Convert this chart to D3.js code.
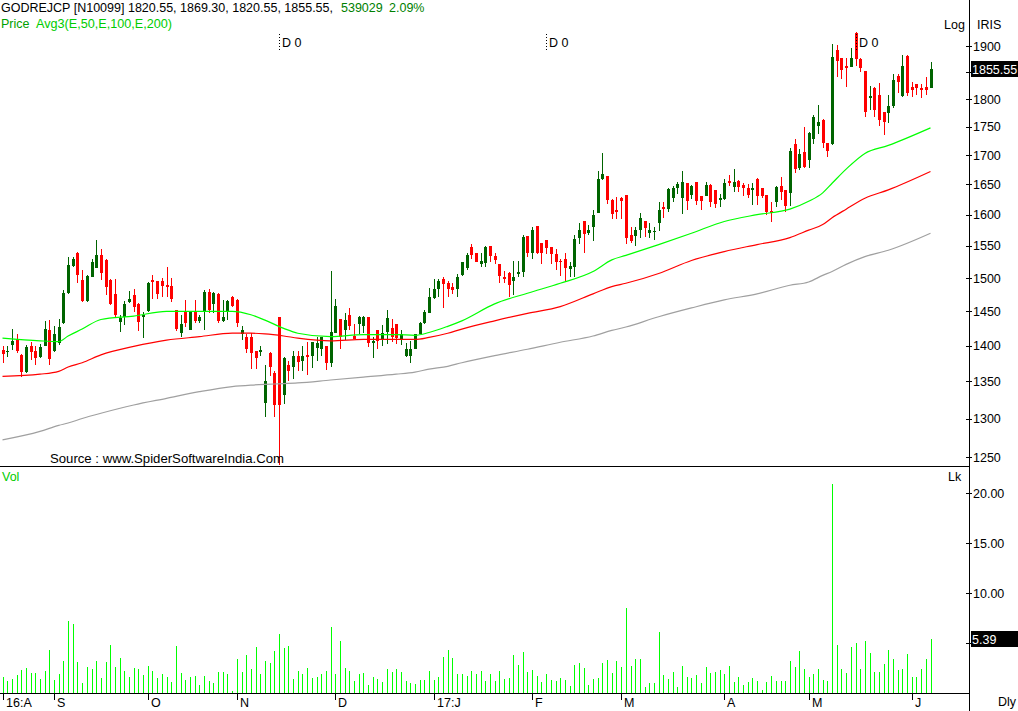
<!DOCTYPE html>
<html><head><meta charset="utf-8">
<script src="https://cdn.jsdelivr.net/npm/d3@7"></script>
<style>
html,body{margin:0;padding:0;background:#fff;overflow:hidden;}
svg{display:block;font-family:"Liberation Sans",Arial,sans-serif;}
</style></head><body>
<svg id="c" width="1018" height="711"></svg>
<script>
// ---------------- DATA ----------------
const symbol = "GODREJCP [N10099]";
const monthTickIndex = [0, 11, 31, 50, 71, 92, 113, 132, 154, 172, 194];
const monthLabels = ["16:A", "S", "O", "N", "D", "17:J", "F", "M", "A", "M", "J"];
const dividendIndex = [59, 116, 182];
const dividendLabel = "D 0";

const openP = [
1394,1391,1401,1410,1387,1363,1400,1393,1384,1400,
1423,1393,1404,1433,1477,1519,1539,1497,1465,1502,
1515,1536,1528,1497,1476,1434,1442,1464,1474,1461,
1442,1450,1497,1496,1495,1489,1488,1452,1418,1449,
1423,1450,1436,1449,1479,1461,1476,1436,1449,1472,
1467,1417,1413,1413,1392,1391,1321,1390,1362,1441,
1332,1373,1370,1386,1378,1387,1385,1397,1396,1399,
1375,1419,1438,1423,1445,1414,1432,1429,1441,1404,
1422,1408,1420,1425,1432,1408,1385,1385,1395,1417,
1433,1448,1470,1483,1498,1493,1487,1484,1505,1515,
1548,1538,1522,1523,1549,1534,1522,1501,1508,1495,
1506,1510,1565,1538,1582,1555,1559,1548,1537,1527,
1530,1514,1517,1562,1589,1570,1580,1603,1659,1664,
1624,1608,1627,1632,1568,1565,1576,1589,1570,1572,
1587,1612,1610,1627,1644,1627,1652,1632,1655,1631,
1631,1649,1640,1624,1626,1656,1646,1656,1649,1644,
1642,1660,1644,1632,1606,1620,1647,1641,1635,1719,
1678,1705,1692,1729,1752,1762,1721,1719,1892,1876,
1862,1860,1926,1875,1852,1802,1821,1807,1776,1775,
1787,1842,1806,1881,1823,1828,1821,1823,1820.55];
const highP = [
1399,1400,1424,1417,1388,1401,1405,1400,1403,1436,
1437,1429,1439,1482,1532,1532,1540,1512,1504,1529,
1559,1545,1529,1498,1499,1445,1465,1480,1483,1462,
1449,1494,1505,1496,1500,1517,1500,1452,1445,1467,
1450,1467,1445,1482,1483,1479,1477,1467,1467,1473,
1468,1428,1417,1418,1392,1400,1373,1391,1365,1442,
1384,1378,1393,1392,1399,1406,1406,1413,1413,1399,
1511,1468,1439,1448,1455,1431,1443,1443,1442,1412,
1422,1430,1452,1438,1432,1423,1404,1407,1417,1434,
1452,1485,1498,1498,1502,1495,1493,1506,1525,1538,
1553,1539,1538,1550,1549,1538,1522,1511,1509,1527,
1527,1567,1565,1580,1582,1555,1560,1548,1545,1530,
1538,1525,1567,1587,1589,1583,1607,1673,1704,1665,
1625,1629,1629,1633,1580,1580,1603,1590,1586,1580,
1621,1621,1644,1648,1655,1673,1653,1649,1655,1631,
1655,1650,1640,1634,1660,1666,1676,1657,1653,1651,
1652,1661,1644,1633,1621,1648,1662,1641,1712,1729,
1710,1750,1740,1771,1789,1763,1721,1903,1901,1877,
1876,1897,1927,1876,1853,1825,1822,1829,1777,1808,
1846,1846,1883,1882,1832,1828,1827,1840,1869.30];
const lowP = [
1375,1384,1394,1390,1356,1362,1380,1373,1383,1399,
1373,1391,1401,1432,1476,1517,1492,1464,1464,1501,
1515,1497,1474,1459,1442,1420,1430,1462,1449,1421,
1411,1449,1468,1468,1471,1471,1464,1421,1413,1427,
1422,1433,1433,1423,1448,1448,1433,1434,1437,1457,
1427,1408,1390,1367,1367,1386,1302,1357,1302,1240,
1319,1350,1354,1365,1364,1359,1368,1378,1386,1366,
1370,1418,1395,1408,1423,1409,1417,1418,1398,1382,
1396,1400,1403,1406,1403,1401,1384,1375,1395,1417,
1431,1447,1468,1472,1455,1472,1476,1471,1503,1513,
1529,1525,1517,1517,1524,1522,1493,1493,1472,1474,
1501,1502,1533,1529,1537,1522,1537,1522,1512,1503,
1496,1502,1501,1553,1539,1567,1557,1602,1658,1618,
1593,1593,1593,1553,1554,1550,1562,1564,1562,1560,
1574,1594,1605,1620,1634,1601,1608,1625,1616,1608,
1630,1612,1611,1612,1624,1648,1638,1638,1631,1628,
1616,1616,1628,1599,1588,1613,1624,1605,1615,1670,
1674,1678,1678,1719,1737,1713,1696,1718,1840,1838,
1823,1859,1862,1851,1767,1780,1768,1751,1735,1756,
1784,1811,1803,1806,1803,1808,1802,1808,1820.55];
const closeP = [
1389,1393,1407,1393,1363,1398,1391,1383,1398,1424,
1381,1417,1427,1477,1520,1529,1505,1465,1503,1525,
1536,1508,1486,1461,1445,1440,1461,1468,1456,1434,
1445,1492,1495,1476,1488,1486,1468,1424,1431,1433,
1449,1436,1442,1479,1452,1477,1436,1442,1465,1458,
1433,1423,1396,1390,1383,1394,1350,1370,1318,1318,
1383,1364,1385,1377,1386,1384,1406,1404,1412,1375,
1420,1458,1413,1437,1429,1409,1441,1441,1404,1407,
1407,1419,1440,1412,1411,1417,1396,1396,1417,1433,
1449,1472,1483,1495,1491,1483,1482,1501,1524,1536,
1536,1525,1527,1548,1534,1528,1503,1500,1489,1502,
1510,1564,1539,1576,1539,1539,1546,1537,1524,1524,
1515,1519,1561,1575,1569,1575,1600,1659,1667,1624,
1601,1605,1623,1563,1557,1575,1594,1578,1575,1574,
1607,1609,1642,1644,1651,1655,1623,1648,1623,1623,
1649,1621,1618,1627,1653,1653,1655,1646,1644,1632,
1644,1631,1630,1605,1602,1645,1638,1614,1707,1677,
1702,1680,1738,1768,1759,1721,1707,1879,1871,1854,
1858,1876,1875,1858,1776,1805,1780,1762,1759,1787,
1835,1831,1862,1812,1817,1820,1817,1817.55,1855.55];
// volume in lakh shares
const volumeLk = [
1.60,1.23,1.43,1.83,2.33,2.53,2.03,2.03,1.43,2.23,
4.33,1.33,1.93,3.23,7.23,6.93,3.13,1.03,2.63,2.43,
3.23,1.53,3.13,4.83,2.63,3.53,2.23,1.63,2.53,2.43,
1.83,2.73,2.23,1.53,1.93,1.63,1.13,4.73,2.03,1.33,
1.63,1.73,0.83,1.73,1.23,1.03,2.13,2.13,1.93,0.23,
3.43,2.13,3.83,2.43,4.63,1.93,3.23,3.03,4.23,5.93,
4.53,4.73,1.43,2.23,1.93,2.53,1.53,1.63,1.93,2.23,
6.63,1.93,5.23,2.53,2.23,1.23,1.93,2.03,0.83,1.63,
1.43,1.13,2.43,2.13,2.43,2.13,1.23,1.03,0.93,1.33,
1.33,2.23,1.33,1.63,3.63,4.33,3.53,1.93,1.93,1.73,
2.23,1.97,2.23,1.23,1.97,1.23,2.23,1.43,1.53,3.83,
2.83,4.13,2.13,2.33,1.73,1.13,1.93,1.33,1.27,1.53,
1.33,0.73,2.83,3.03,2.53,0.83,1.43,1.53,3.03,3.33,
2.03,3.23,2.63,8.53,2.73,3.43,3.43,0.63,1.03,1.03,
6.13,1.83,1.43,2.13,0.63,2.73,1.63,1.53,1.83,1.03,
2.63,2.03,2.13,2.33,1.93,2.73,1.13,1.63,0.83,1.13,
1.53,1.23,0.33,1.13,1.73,1.23,1.23,1.23,3.23,2.63,
4.23,2.43,1.63,1.93,2.43,1.33,1.23,20.9,4.83,2.43,
2.03,4.63,5.03,2.43,5.23,4.03,2.13,2.13,2.93,4.33,
3.43,2.33,2.43,3.93,1.63,1.63,2.43,3.43,5.39029];

// moving averages at these bar indices
const maIndex = [0,8,12,14,17,21,28,35,42,49,53,56,60,63,70,77,84,88,91,95,98,105,112,119,126,130,133,140,147,154,161,168,172,175,177,180,184,189,198];
const ema50  = [1411,1407,1406,1414,1424,1438,1443,1450,1450,1450,1445,1437,1425,1418,1413,1416,1416,1415,1419,1428,1436,1461,1477,1492,1510,1528,1535,1552,1570,1589,1600,1609,1622,1636,1652,1676,1703,1717,1748];
const ema100 = [1357,1360,1364,1370,1376,1387,1399,1408,1413,1418,1418,1417,1414,1411,1407,1409,1409,1409,1412,1418,1424,1436,1447,1457,1476,1487,1492,1507,1527,1541,1552,1563,1575,1584,1595,1609,1627,1641,1672];
const ema200 = [1272,1283,1291,1294,1300,1307,1318,1327,1336,1343,1345,1346,1347,1348,1352,1356,1360,1363,1367,1371,1376,1386,1395,1405,1414,1422,1427,1442,1455,1467,1476,1489,1494,1504,1510,1521,1533,1543,1570];

const priceTicks = [1250,1300,1350,1400,1450,1500,1550,1600,1650,1700,1750,1800,1850,1900];
const volTicks = [5,10,15,20];

// ---------------- CHART ----------------
const N = closeP.length;
const last = N - 1;
const AX = 969;
const PRICE_BOTTOM = 466;
const svg = d3.select("#c");

const x = d3.scaleLinear().domain([0, N - 1]).range([2.5, 930.5]);
const y = d3.scaleLog().domain([1250, 1900]).range([457, 46]);
const yv = d3.scaleLinear().domain([0, 20]).range([693.3, 493.3]);
const px = i => Math.round(x(i));

svg.append("defs").append("clipPath").attr("id", "pc")
  .append("rect").attr("x", 0).attr("y", 0).attr("width", AX - 1).attr("height", PRICE_BOTTOM);

const gP = svg.append("g").attr("clip-path", "url(#pc)");
const idx = d3.range(N);
const GREEN = "#006400", RED = "#ff0000";
const col = i => closeP[i] >= openP[i] ? GREEN : RED;

// wicks
gP.selectAll("line.wick").data(idx).join("line").attr("class", "wick")
  .attr("x1", i => px(i) + 0.5).attr("x2", i => px(i) + 0.5)
  .attr("y1", i => y(highP[i])).attr("y2", i => y(lowP[i]))
  .attr("stroke", col).attr("stroke-width", 1).attr("shape-rendering", "crispEdges");
// bodies
gP.selectAll("rect.body").data(idx).join("rect").attr("class", "body")
  .attr("x", i => px(i) - 1).attr("width", 3)
  .attr("y", i => y(Math.max(openP[i], closeP[i])))
  .attr("height", i => Math.max(1.5, Math.abs(y(openP[i]) - y(closeP[i]))))
  .attr("fill", col).attr("shape-rendering", "crispEdges");

// moving averages
const maLine = d3.line().x((d, i) => x(maIndex[i])).y(d => y(d)).curve(d3.curveMonotoneX);
[[ema200, "#a0a0a0"], [ema100, "#ff0000"], [ema50, "#00ff00"]].forEach(([vals, c]) => {
  gP.append("path").attr("d", maLine(vals)).attr("fill", "none")
    .attr("stroke", c).attr("stroke-width", 1.2);
});

// dividend markers
dividendIndex.forEach(i => {
  svg.append("line").attr("x1", px(i) + 0.5).attr("x2", px(i) + 0.5)
    .attr("y1", 34).attr("y2", 52).attr("stroke", "#000")
    .attr("stroke-dasharray", "1,2").attr("shape-rendering", "crispEdges");
  svg.append("text").attr("x", px(i) + 3).attr("y", 47)
    .attr("font-size", 12.5).attr("fill", "#000").text(dividendLabel);
});

// volume bars
svg.append("g").selectAll("rect").data(idx).join("rect")
  .attr("x", i => px(i)).attr("width", 1)
  .attr("y", i => yv(volumeLk[i])).attr("height", i => yv(0) - yv(volumeLk[i]))
  .attr("fill", "#00ff00").attr("shape-rendering", "crispEdges");

// frame lines
svg.append("line").attr("x1", 0).attr("x2", AX).attr("y1", PRICE_BOTTOM + 0.5).attr("y2", PRICE_BOTTOM + 0.5)
  .attr("stroke", "#000").attr("shape-rendering", "crispEdges");
svg.append("line").attr("x1", 0).attr("x2", AX).attr("y1", 693.5).attr("y2", 693.5)
  .attr("stroke", "#000").attr("shape-rendering", "crispEdges");
svg.append("line").attr("x1", AX + 0.5).attr("x2", AX + 0.5).attr("y1", 0).attr("y2", 711)
  .attr("stroke", "#000").attr("shape-rendering", "crispEdges");

// tick labels hidden behind the last-value boxes are left out (only their tick marks are drawn)
const lastPriceY = y(closeP[last]);
const lastVolY = yv(volumeLk[last]);
const fmtP = d3.format("d"), fmtV = d3.format(".2f");

// price axis
const pAxis = d3.axisRight(y).tickValues(priceTicks)
  .tickFormat(d => Math.abs(y(d) - lastPriceY) < 12 ? "" : fmtP(d)).tickSize(6).tickPadding(1);
svg.append("g").attr("transform", `translate(${AX - 3},0)`).call(pAxis)
  .attr("font-family", "Liberation Sans, Arial, sans-serif").attr("font-size", 12.5)
  .call(g => g.select(".domain").remove())
  .call(g => g.selectAll("line").attr("shape-rendering", "crispEdges"));

// volume axis
const vAxis = d3.axisRight(yv).tickValues(volTicks)
  .tickFormat(d => Math.abs(yv(d) - lastVolY) < 12 ? "" : fmtV(d)).tickSize(6).tickPadding(1);
svg.append("g").attr("transform", `translate(${AX - 3},0)`).call(vAxis)
  .attr("font-family", "Liberation Sans, Arial, sans-serif").attr("font-size", 12.5)
  .call(g => g.select(".domain").remove())
  .call(g => g.selectAll("line").attr("shape-rendering", "crispEdges"));

// last value boxes
function valueBox(yc, label) {
  svg.append("rect").attr("x", AX + 2).attr("y", Math.round(yc) - 8).attr("width", 1018 - AX - 2).attr("height", 16).attr("fill", "#000");
  svg.append("text").attr("x", AX + 3).attr("y", Math.round(yc) + 4.5).attr("fill", "#fff")
    .attr("font-size", 12.5).text(label);
}
valueBox(lastPriceY, closeP[last].toFixed(2));
valueBox(lastVolY, volumeLk[last].toFixed(2));

// month axis
monthTickIndex.forEach((i, k) => {
  svg.append("line").attr("x1", px(i) + 0.5).attr("x2", px(i) + 0.5).attr("y1", 694).attr("y2", 700)
    .attr("stroke", "#000").attr("shape-rendering", "crispEdges");
  svg.append("text").attr("x", px(i) + 3).attr("y", 707).attr("font-size", 12.5).attr("fill", "#000").text(monthLabels[k]);
});

// texts
const hdr = `${symbol} ${openP[last].toFixed(2)}, ${highP[last].toFixed(2)}, ${lowP[last].toFixed(2)}, ${closeP[last].toFixed(2)},`;
svg.append("text").attr("x", 1).attr("y", 12).attr("font-size", 12.5).attr("fill", "#000")
  .attr("textLength", 332).attr("lengthAdjust", "spacingAndGlyphs").text(hdr);
svg.append("text").attr("x", 341).attr("y", 12).attr("font-size", 12.5).attr("fill", "#008000")
  .text(String(Math.round(volumeLk[last] * 100000)));
const pct = (closeP[last] / closeP[last - 1] - 1) * 100;
svg.append("text").attr("x", 389).attr("y", 12).attr("font-size", 12.5).attr("fill", "#008000")
  .text(pct.toFixed(2) + "%");
svg.append("text").attr("x", 1).attr("y", 28).attr("font-size", 12.5).attr("fill", "#00a000").text("Price");
svg.append("text").attr("x", 36).attr("y", 28).attr("font-size", 12.5).attr("fill", "#00cc00")
  .attr("textLength", 136).attr("lengthAdjust", "spacingAndGlyphs").text("Avg3(E,50,E,100,E,200)");
svg.append("text").attr("x", 944).attr("y", 29).attr("font-size", 12.5).attr("fill", "#000").text("Log");
svg.append("text").attr("x", 977).attr("y", 29).attr("font-size", 12.5).attr("fill", "#000").text("IRIS");
svg.append("text").attr("x", 50).attr("y", 463).attr("font-size", 13).attr("fill", "#000")
  .attr("textLength", 234).attr("lengthAdjust", "spacingAndGlyphs").text("Source : www.SpiderSoftwareIndia.Com");
svg.append("text").attr("x", 2).attr("y", 481).attr("font-size", 12.5).attr("fill", "#00cc00").text("Vol");
svg.append("text").attr("x", 948).attr("y", 481).attr("font-size", 12.5).attr("fill", "#000").text("Lk");
svg.append("text").attr("x", 998).attr("y", 706).attr("font-size", 12.5).attr("fill", "#000").text("Dly");
</script>
</body></html>
